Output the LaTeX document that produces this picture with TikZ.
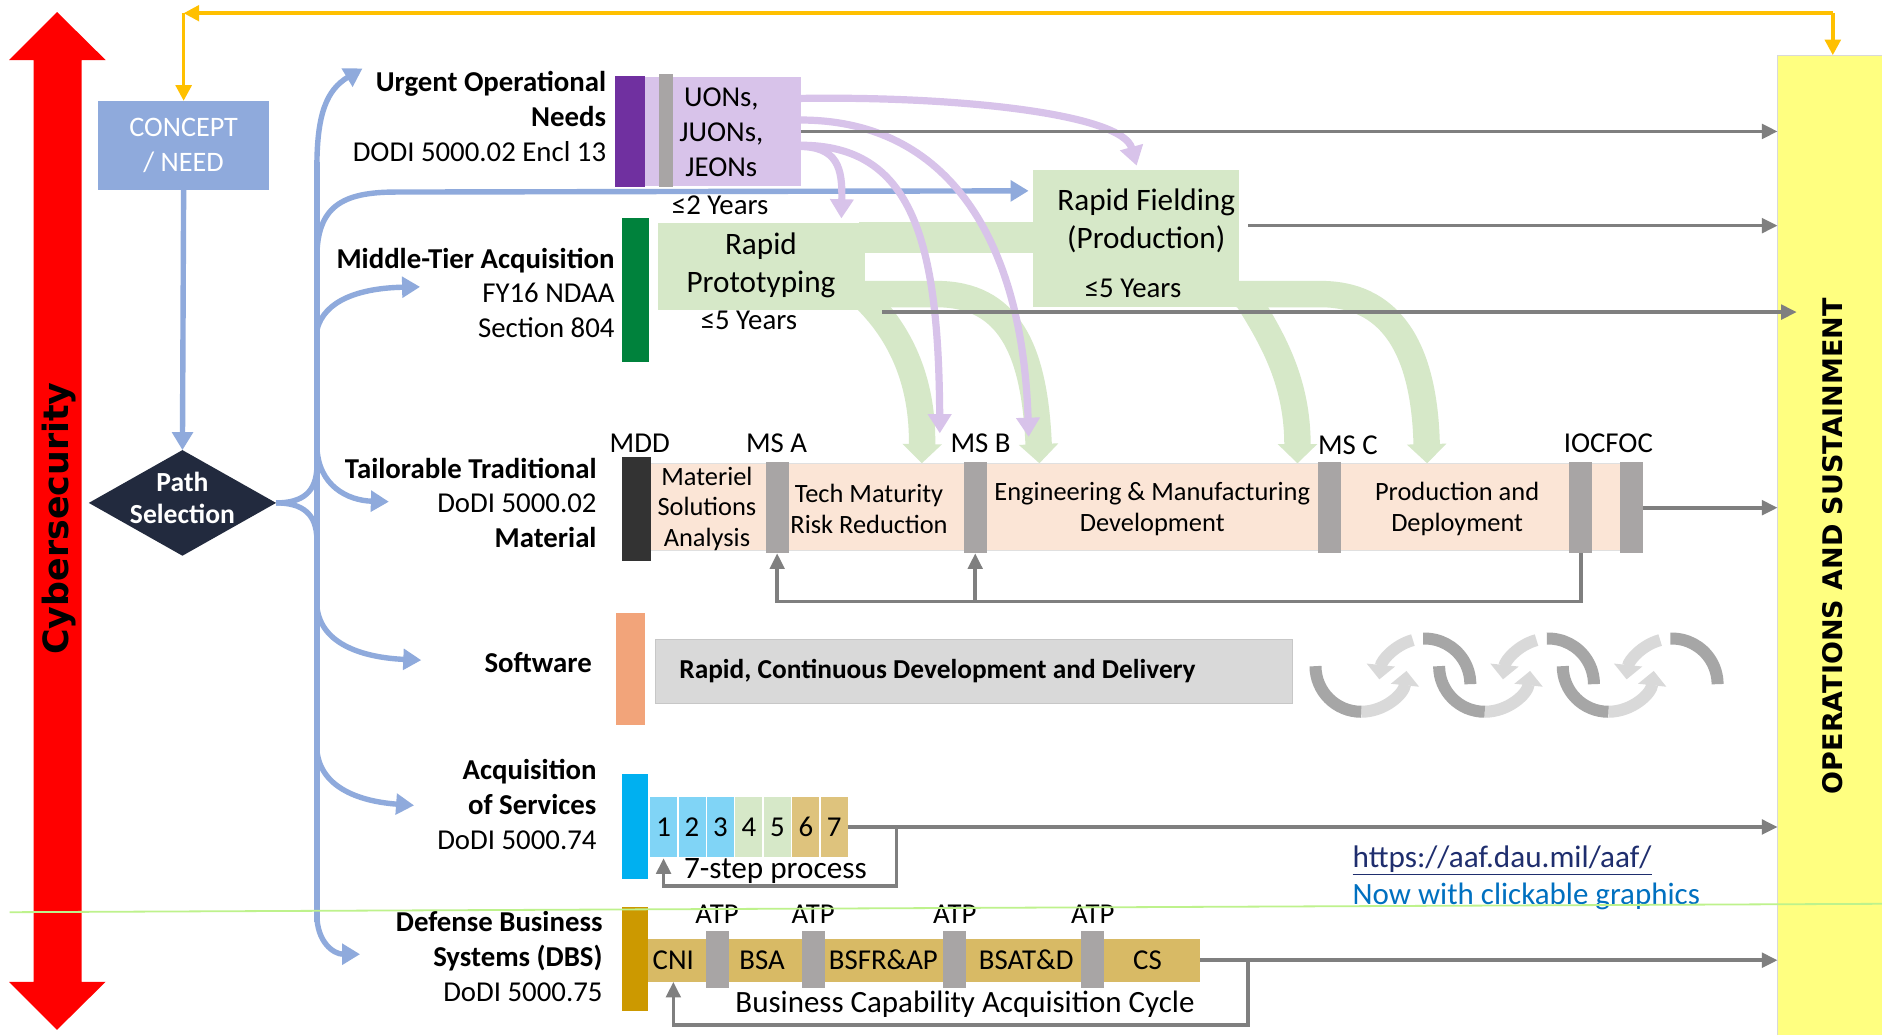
\documentclass[tikz,border=0pt]{standalone}
\usepackage{fontspec}
\setmainfont{Carlito}
\newfontfamily\dejavu{DejaVu Sans}
\usetikzlibrary{arrows.meta,shapes.geometric,calc}

\definecolor{cblue}{RGB}{143,170,220}
\definecolor{navy}{RGB}{34,42,62}
\definecolor{ored}{RGB}{255,0,0}
\definecolor{orng}{RGB}{255,192,0}
\definecolor{ylw}{RGB}{255,255,128}
\definecolor{purp}{RGB}{112,48,160}
\definecolor{lilac}{RGB}{216,195,234}
\definecolor{dgreen}{RGB}{0,130,60}
\definecolor{lgreen}{RGB}{214,232,200}
\definecolor{barg}{RGB}{168,165,165}
\definecolor{salmon}{RGB}{251,229,214}
\definecolor{arrg}{RGB}{127,127,127}
\definecolor{tradblack}{RGB}{51,51,51}
\definecolor{swor}{RGB}{242,164,122}
\definecolor{swgray}{RGB}{217,217,217}
\definecolor{cyan2}{RGB}{0,176,240}
\definecolor{nblue}{RGB}{128,212,246}
\definecolor{ntan}{RGB}{222,195,125}
\definecolor{gold}{RGB}{204,153,0}
\definecolor{dtan}{RGB}{216,186,101}
\definecolor{urlc}{RGB}{31,46,110}
\definecolor{nowc}{RGB}{0,112,192}
\definecolor{guide}{RGB}{190,242,140}
\definecolor{cycd}{RGB}{166,166,166}
\definecolor{cycl}{RGB}{217,217,217}

\begin{document}
\begin{tikzpicture}[x=1pt,y=-1pt,
  every node/.style={inner sep=0pt,outer sep=0pt},
  f24/.style={font=\fontsize{24}{29}\selectfont},
  f22/.style={font=\fontsize{22}{25.5}\selectfont},
  f26/.style={font=\fontsize{26}{32}\selectfont},
  lbl/.style={f24,align=right,anchor=east},
  rbox/.style 2 args={minimum width=#1,minimum height=#2},
  msbar/.style={fill=barg,rbox={19pt}{76pt}},
  atpbar/.style={fill=barg,rbox={19pt}{47pt}},
  bluearr/.style={draw=cblue,line width=4.5pt,-{Triangle[length=15pt,width=17pt]}},
  blueline/.style={draw=cblue,line width=4.5pt},
  grayarr/.style={draw=arrg,line width=3pt,-{Triangle[length=13pt,width=12pt]}},
  purarr/.style={draw=lilac,line width=6pt,-{Triangle[length=16pt,width=19pt]}},
  grnarr/.style={draw=lgreen,line width=22pt,-{Triangle[length=16pt,width=32pt]}},
  orarr/.style={draw=orng,line width=3pt,-{Triangle[length=13pt,width=13pt]}},
  cycdark/.style={draw=cycd,line width=10pt},
  cyclight/.style={draw=cycl,line width=10pt,-{Triangle[length=12pt,width=23pt]}}
]
\useasboundingbox (0,0) rectangle (1568,862);
\fill[white] (0,0) rectangle (1568,862);

% ---- operations and sustainment column
\node[fill=ylw,draw=black!15,line width=0.8pt,rbox={91pt}{820pt}] (os) at (1526.5,456) {};
\node[rotate=90,font=\dejavu\bfseries\fontsize{22.5}{27}\selectfont] (ostxt) at (1527,455) {OPERATIONS AND SUSTAINMENT};

% ---- cybersecurity double arrow
\fill[ored] (47.5,10) -- (88,50) -- (68,50) -- (68,818) -- (88,818) -- (47.5,858)
  -- (7.5,818) -- (28,818) -- (28,50) -- (7.5,50) -- cycle;
\node[rotate=90,font=\dejavu\bfseries\fontsize{29}{35}\selectfont] (cyber) at (49,432) {Cybersecurity};

% ---- concept and path selection
\node[fill=cblue,rbox={142pt}{74pt},text=white,align=center,font=\fontsize{23.5}{29}\selectfont] (concept) at (153,121) {CONCEPT\\/ NEED};
\node[diamond,fill=navy,rbox={156pt}{88pt}] (ps) at (152,419) {};
\node[text=white,align=center,font=\bfseries\fontsize{23}{27}\selectfont] (pstxt) at (152,415) {Path\\Selection};

% feedback from sustainment to concept
\coordinate (otr) at (1527,11);
\coordinate (otl) at (153,11);
\draw[orarr] (otr) -- (otl);
\draw[orarr] (otl) -- (concept.north);
\draw[orarr] (otr) -- (otr |- os.north);

% ---- pathway branches
\draw[bluearr] (concept.south) -- (ps.north);
\draw[blueline] (264,135) -- (264,768);
\draw[blueline] (ps.east) .. controls (252,419) and (264,410) .. (264,388);
\draw[blueline] (ps.east) .. controls (252,419) and (264,428) .. (264,450);
\coordinate (rfin) at (857,159);
\draw[bluearr] (264,140) .. controls (264,95) and (272,75) .. (302,57);
\draw[bluearr] (264,215) .. controls (264,172) and (285,160) .. (330,160) -- (rfin);
\draw[bluearr] (264,275) .. controls (270,250) and (300,240) .. (350,239);
\draw[bluearr] (264,372) .. controls (265,405) and (290,417) .. (324,418);
\draw[bluearr] (264,505) .. controls (267,538) and (305,548) .. (351,550);
\draw[bluearr] (264,625) .. controls (267,658) and (303,668) .. (345,671);
\draw[bluearr] (264,762) .. controls (264,785) and (278,795) .. (300,795);

% ---- pathway labels
\node[lbl] (lbuon) at (505,97) {\textbf{Urgent Operational}\\\textbf{Needs}\\DODI 5000.02 Encl 13};
\node[lbl] (lbmta) at (512,244) {\textbf{Middle-Tier Acquisition}\\FY16 NDAA\\Section 804};
\node[lbl] (lbtrad) at (497,419) {\textbf{Tailorable Traditional}\\DoDI 5000.02\\\textbf{Material}};
\node[lbl] (lbsw) at (493,552) {\textbf{Software}};
\node[lbl] (lbas) at (497,670) {\textbf{Acquisition}\\\textbf{of Services}\\DoDI 5000.74};
\node[lbl] (lbdbs) at (502,797) {\textbf{Defense Business}\\\textbf{Systems (DBS)}\\DoDI 5000.75};

% ---- urgent operational needs
\node[fill=lilac,rbox={130pt}{91pt}] (uon) at (602,109.5) {};
\node[fill=purp,rbox={25pt}{92pt}] (uonbar) at (524.5,109.5) {};
\node[fill=barg,rbox={12pt}{94pt}] (uongray) at (555,109) {};
\node[f24,align=center] (uontxt) at (601,110) {UONs,\\JUONs,\\JEONs};
\node[f24] (two) at (600,171) {≤2 Years};

% ---- middle tier acquisition
\node[fill=dgreen,rbox={23pt}{120pt}] (mtabar) at (529.5,241.5) {};
\node[fill=lgreen,rbox={148pt}{26pt}] (rpfeed) at (790,198) {};
\draw[grnarr] (722,250) .. controls (752,280) and (769,320) .. (768,386);
\draw[grnarr] (712,245) -- (780,245) .. controls (840,245) and (862,290) .. (866,386);
\draw[grnarr] (1030,245) -- (1100,245) .. controls (1165,245) and (1187,300) .. (1189,386);
\draw[grnarr] (1040,250) .. controls (1062,285) and (1081,320) .. (1081,386);
\node[fill=lgreen,rbox={173pt}{72pt}] (rp) at (634.5,222) {};
\node[fill=lgreen,rbox={171pt}{114pt}] (rf) at (946.5,199) {};
\node[f26,align=center] (rptxt) at (634,221) {Rapid\\Prototyping};
\node[f24] (rpyr) at (624,267) {≤5 Years};
\node[f26,align=center] (rftxt) at (955,184) {Rapid Fielding\\(Production)};
\node[f24] (rfyr) at (944,240) {≤5 Years};

% urgent needs feeding the other pathways
\draw[purarr] (667,82) .. controls (800,80) and (935,95) .. ($(rf.north)+(0.5,-4)$);
\draw[purarr] (667,100) .. controls (790,100) and (852,200) .. (857,364);
\draw[purarr] (667,121) .. controls (760,121) and (782,200) .. (783,361);
\draw[purarr] (665,122) .. controls (698,122) and (702,140) .. ($(rp.north)+(66.5,-4)$);

% ---- tailorable traditional
\node[fill=salmon,draw=black!12,line width=0.8pt,rbox={827pt}{73pt}] (trad) at (954.5,422.5) {};
\node[fill=tradblack,rbox={24pt}{86pt}] (tradbar) at (530,424) {};
\node[msbar] (msa) at (647.5,423) {};
\node[msbar] (msb) at (812.5,423) {};
\node[msbar] (msc) at (1108,423) {};
\node[msbar] (ioc) at (1317,423) {};
\node[msbar] (foc) at (1359,423) {};
\node[f24] (lmdd) at (533,369) {MDD};
\node[f24] (lmsa) at (647,369) {MS A};
\node[f24] (lmsb) at (817,369) {MS B};
\node[f24] (lmsc) at (1123,371) {MS C};
\node[f24] (lioc) at (1340,369) {IOCFOC};
\node[f22,align=center] (tmsa) at (589,424) {Materiel\\Solutions\\Analysis};
\node[f22,align=center] (ttmrr) at (724,424) {Tech Maturity\\Risk Reduction};
\node[f22,align=center] (temd) at (960,424) {Engineering \& Manufacturing\\Development};
\node[f22,align=center] (tpd) at (1214,424) {Production and\\Deployment};
\coordinate (lpy) at (0,501);
\draw[grayarr] (ioc.south) |- (msa.south |- lpy) -- (msa.south);
\draw[grayarr] (msb.south |- lpy) -- (msb.south);

% ---- software
\node[fill=swor,rbox={24pt}{93pt}] (swbar) at (525,557.5) {};
\node[fill=swgray,draw=black!22,line width=0.8pt,rbox={531pt}{53pt}] (swbox) at (811.5,559.5) {};
\node[anchor=west,font=\bfseries\fontsize{22.8}{26}\selectfont] (swtxt) at (566,559) {Rapid, Continuous Development and Delivery};
\foreach \k in {0,1,2}{
  \pgfmathsetmacro\lx{1134+103*\k}
  \pgfmathsetmacro\ux{1187+103*\k}
  \draw[cyclight] (\lx,555) ++(90:38) arc[start angle=90,end angle=6,radius=38];
  \draw[cycdark] (\lx,555) ++(180:38) arc[start angle=180,end angle=90,radius=38];
  \draw[cyclight] (\ux,570) ++(255:38) arc[start angle=255,end angle=186,radius=38];
  \draw[cycdark] (\ux,570) ++(268:38) arc[start angle=268,end angle=360,radius=38];
}

% ---- acquisition of services
\node[fill=cyan2,rbox={22pt}{87pt}] (asbar) at (529,688.5) {};
\foreach \i/\c in {1/nblue,2/nblue,3/nblue,4/lgreen,5/lgreen,6/ntan,7/ntan}
  \node[fill=\c,draw=white,line width=1.2pt,rbox={23.7pt}{52pt},f24] (n\i) at ({541+23.7*(\i-0.5)},689) {\i};
\coordinate (asy) at (0,738);
\coordinate (asx) at (747,0);
\draw[grayarr] (asx |- n7.east) |- (n1.south |- asy) -- (n1.south);
\node[font=\fontsize{26}{30}\selectfont] (step7) at (646,726) {7-step process};

% ---- defense business systems
\node[fill=gold,rbox={22pt}{86pt}] (dbsbar) at (529,799) {};
\node[fill=dtan,rbox={460pt}{36pt}] (dbs) at (770,800) {};
\node[atpbar] (atp1) at (597.5,799.5) {};
\node[atpbar] (atp2) at (677.5,799.5) {};
\node[atpbar] (atp3) at (795.5,799.5) {};
\node[atpbar] (atp4) at (910.5,799.5) {};
\foreach \n/\x in {1/597.5,2/677.5,3/795.5,4/910.5}
  \node[f24] (latp\n) at (\x,762) {ATP};
\node[f24] (cni) at (561,800) {CNI};
\node[f24] (bsa) at (635,800) {BSA};
\node[f24] (bsfr) at (736,800) {BSFR\&AP};
\node[f24] (bsat) at (855,800) {BSAT\&D};
\node[f24] (cs) at (956,800) {CS};
\node[font=\fontsize{25.8}{30}\selectfont] (bcac) at (804,837) {Business Capability Acquisition Cycle};
\coordinate (dby) at (0,854);
\coordinate (dbx) at (1040,0);
\draw[grayarr] (dbx |- dbs.east) |- (cni |- dby) -- (cni |- dbs.south);

% ---- flows into operations and sustainment
\draw[grayarr] (uon.east) -- (uon.east -| os.west);
\coordinate (a2s) at ($(rf.east)+(8,-11)$);
\draw[grayarr] (a2s) -- (a2s -| os.west);
\coordinate (a3s) at (735,260);
\draw[grayarr] (a3s) -- ($(a3s -| os.west)+(16,0)$);
\draw[grayarr] (foc.east) -- (foc.east -| os.west);
\draw[grayarr] (n7.east) -- (n7.east -| os.west);
\draw[grayarr] (dbs.east) -- (dbs.east -| os.west);

% ---- link
\node[anchor=west,text=urlc,font=\fontsize{26}{30}\selectfont] (url) at (1127,717) {\underline{https://aaf.dau.mil/aaf/}};
\node[anchor=west,text=nowc,font=\fontsize{25.8}{30}\selectfont] (now) at (1127,747) {Now with clickable graphics};

% guide line
\draw[guide,line width=1.5pt] (8,760) -- (1568,753);
\end{tikzpicture}
\end{document}
